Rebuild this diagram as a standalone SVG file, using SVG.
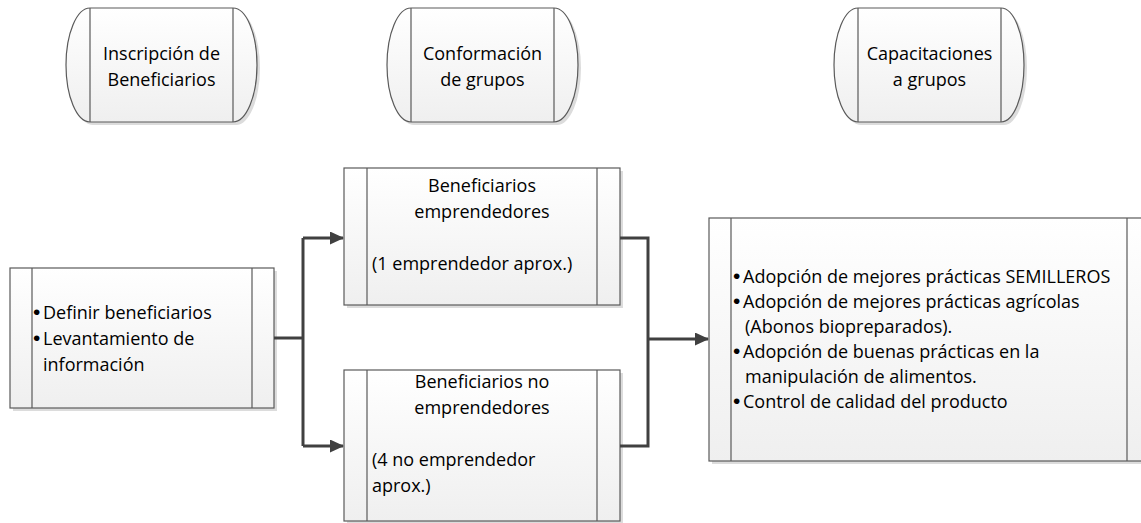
<svg xmlns="http://www.w3.org/2000/svg" width="1141" height="523" viewBox="0 0 1141 523">
<defs>
<linearGradient id="g" x1="0" y1="0" x2="0" y2="1">
<stop offset="0" stop-color="#ffffff"/>
<stop offset="1" stop-color="#efefef"/>
</linearGradient>
<marker id="ah" markerWidth="14" markerHeight="14" refX="13" refY="6.5" orient="auto" markerUnits="userSpaceOnUse">
<path d="M0,0 L14,6.5 L0,13 Z" fill="#404040"/>
</marker>
</defs>
<style>
.box{fill:url(#g);stroke:#5a5a5a;stroke-width:1.2}
.sh{fill:#dcdcdc;stroke:none}
.ln{stroke:#5a5a5a;stroke-width:1.2;fill:none}
.t{font-family:"Open Sans","Liberation Sans",sans-serif;font-size:18px;fill:#000}
.b{font-family:"Liberation Sans","DejaVu Sans",sans-serif;font-size:21px;fill:#000}
.c{text-anchor:middle}
.con{fill:none;stroke:#404040;stroke-width:3}
</style>
<rect width="1141" height="523" fill="#ffffff"/>

<g id="hdr-inscripcion">
<path class="sh" d="M93,11 H236 A24,57 0 0 1 236,125 H93 A24,57 0 0 1 93,11 Z"/>
<path class="box" d="M90,8 H233 A24,57 0 0 1 233,122 H90 A24,57 0 0 1 90,8 Z"/>
<path class="ln" d="M90,8 V122 M233,8 V122"/>
<text class="t c" x="161.5" y="60">Inscripción de</text>
<text class="t c" x="161.5" y="86">Beneficiarios</text>
</g>

<g id="hdr-conformacion">
<path class="sh" d="M414,11 H557 A24,57 0 0 1 557,125 H414 A24,57 0 0 1 414,11 Z"/>
<path class="box" d="M411,8 H554 A24,57 0 0 1 554,122 H411 A24,57 0 0 1 411,8 Z"/>
<path class="ln" d="M411,8 V122 M554,8 V122"/>
<text class="t c" x="482.5" y="60">Conformación</text>
<text class="t c" x="482.5" y="86">de grupos</text>
</g>

<g id="hdr-capacitaciones">
<path class="sh" d="M861,11 H1004 A23,57 0 0 1 1004,125 H861 A24,57 0 0 1 861,11 Z"/>
<path class="box" d="M858,8 H1001 A23,57 0 0 1 1001,122 H858 A24,57 0 0 1 858,8 Z"/>
<path class="ln" d="M858,8 V122 M1001,8 V122"/>
<text class="t c" x="929.5" y="60">Capacitaciones</text>
<text class="t c" x="929.5" y="86">a grupos</text>
</g>

<g id="definir">
<rect class="sh" x="13" y="271" width="264" height="140"/>
<rect class="box" x="10" y="268" width="264" height="140"/>
<path class="ln" d="M32,268 V408 M252,268 V408"/>
<text class="b" x="33" y="319">•</text>
<text class="t" x="43" y="319">Definir beneficiarios</text>
<text class="b" x="33" y="345">•</text>
<text class="t" x="43" y="345">Levantamiento de</text>
<text class="t" x="43" y="371">información</text>
</g>

<g id="emprendedores">
<rect class="sh" x="347" y="171" width="276" height="137"/>
<rect class="box" x="344" y="168" width="276" height="137"/>
<path class="ln" d="M367,168 V305 M597,168 V305"/>
<text class="t c" x="482" y="192">Beneficiarios</text>
<text class="t c" x="482" y="218">emprendedores</text>
<text class="t" x="372" y="270">(1 emprendedor aprox.)</text>
</g>

<g id="no-emprendedores">
<rect class="sh" x="347" y="373" width="276" height="150"/>
<rect class="box" x="344" y="370" width="276" height="151"/>
<path class="ln" d="M367,370 V521 M597,370 V521"/>
<text class="t c" x="482" y="388">Beneficiarios no</text>
<text class="t c" x="482" y="414">emprendedores</text>
<text class="t" x="372" y="466">(4 no emprendedor</text>
<text class="t" x="372" y="492">aprox.)</text>
</g>

<g id="capacitaciones">
<rect class="sh" x="712" y="221" width="440" height="243"/>
<rect class="box" x="709" y="218" width="440" height="243"/>
<path class="ln" d="M731,218 V461 M1127,218 V461"/>
<text class="b" x="733" y="283">•</text>
<text class="t" x="743" y="283">Adopción de mejores prácticas SEMILLEROS</text>
<text class="b" x="733" y="308">•</text>
<text class="t" x="743" y="308">Adopción de mejores prácticas agrícolas</text>
<text class="t" x="745" y="333">(Abonos biopreparados).</text>
<text class="b" x="733" y="358">•</text>
<text class="t" x="743" y="358">Adopción de buenas prácticas en la</text>
<text class="t" x="745" y="383">manipulación de alimentos.</text>
<text class="b" x="733" y="408">•</text>
<text class="t" x="743" y="408">Control de calidad del producto</text>
</g>

<g id="connectors">
<path class="con" d="M274,338 H303"/>
<path class="con" d="M303,238 V446"/>
<path class="con" d="M303,238 H343" marker-end="url(#ah)"/>
<path class="con" d="M303,446 H343" marker-end="url(#ah)"/>
<path class="con" d="M620,238 H648 V446 H620"/>
<path class="con" d="M648,339 H708" marker-end="url(#ah)"/>
</g>
</svg>
